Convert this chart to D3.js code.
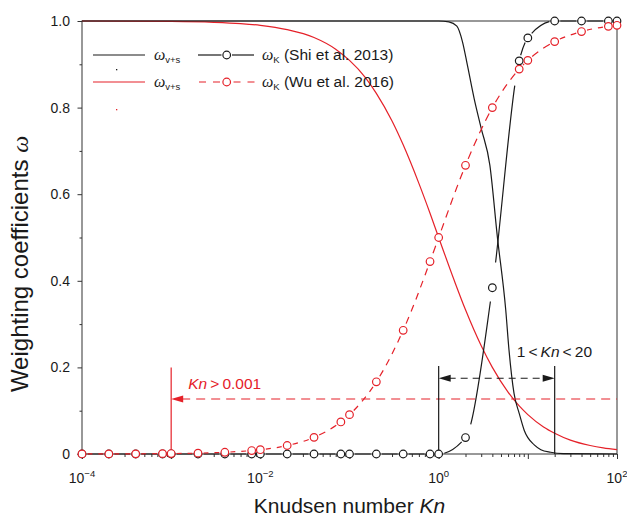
<!DOCTYPE html>
<html>
<head>
<meta charset="utf-8">
<script src="https://cdn.jsdelivr.net/npm/d3@7"></script>
<style>
  body { margin: 0; background: #fff; }
  svg { display: block; }
  text { font-family: "Liberation Sans", Arial, Helvetica, sans-serif; fill: #1a1a1a; }
</style>
</head>
<body>
<svg id="chart" width="627" height="518"></svg>
<script>
// Knudsen numbers at which the weighting coefficient omega_K is evaluated
const knPoints = [0.0001, 0.0002, 0.0004, 0.0008, 0.001, 0.002, 0.004, 0.008, 0.01, 0.02, 0.04, 0.08,
                  0.1, 0.2, 0.4, 0.8, 1, 2, 4, 8, 10, 20, 40, 80, 100];
// omega_K, Shi et al. 2013
const omegaKShi = [0, 0, 0, 0, 0, 0, 0, 0, 0, 0, 0, 0,
                   0, 0, 0, 0, 0, 0.038, 0.384, 0.908, 0.961, 1.0, 1.0, 1.0, 1.0];
// omega_K, Wu et al. 2016
const omegaKWu = [0.0001, 0.0002, 0.0004, 0.0008, 0.001, 0.002, 0.004, 0.008, 0.0099, 0.0196, 0.0385, 0.074,
                  0.0909, 0.1667, 0.2857, 0.4444, 0.5, 0.6667, 0.8, 0.8889, 0.9091, 0.9524, 0.9756, 0.9877, 0.9901];

// omega_v+s, Shi et al. 2013 (black solid curve)
const knShiVS = [0.0001, 1, 1.3, 1.6, 1.85, 2.1, 2.5, 3.0, 3.75, 4.55, 5.65, 6.15, 7.0, 8.0, 9.1, 11.8, 14, 18, 25, 100];
const omegaVSShi = [1, 1, 0.998, 0.988, 0.952, 0.898, 0.821, 0.752, 0.667, 0.502, 0.333, 0.24, 0.14, 0.094, 0.055, 0.021, 0.01, 0.004, 0.001, 0];

// omega_v+s, Wu et al. 2016 (red solid curve)
const knWuVS = [0.0001, 0.001, 0.003, 0.006, 0.01, 0.02, 0.04, 0.07, 0.1, 0.15, 0.2, 0.3, 0.4, 0.6, 0.8, 1,
                1.5, 2, 3, 4, 6, 8, 10, 15, 20, 30, 50, 70, 100];
const omegaVSWu = [1.0, 0.999, 0.997, 0.994, 0.990, 0.980, 0.962, 0.935, 0.909, 0.870, 0.833, 0.769, 0.714, 0.625, 0.556, 0.5,
                   0.4, 0.333, 0.25, 0.2, 0.143, 0.111, 0.091, 0.0625, 0.048, 0.032, 0.0196, 0.014, 0.0099];

// Axis ticks
const xMajorExponents = [-4, -3, -2, -1, 0, 1, 2];
const xLabelExponents = [-4, -2, 0, 2];
const yTicks = [0, 0.2, 0.4, 0.6, 0.8, 1.0];
const yTickLabels = ["0", "0.2", "0.4", "0.6", "0.8", "1.0"];
const yMinorTicks = [0.1, 0.3, 0.5, 0.7, 0.9];

// Flow-regime annotations
const knThreshold = 0.001;
const thresholdLevel = 0.127;
const thresholdTop = 0.2;
const transitionRange = [1, 20];
const transitionLevel = 0.175;
const transitionTop = 0.203;

const RED = "#e52129";
const BLACK = "#1a1a1a";
const R = 3.8;

const svg = d3.select("#chart");
const x = d3.scaleLog().domain([1e-4, 1e2]).range([82, 617]);
const y = d3.scaleLinear().domain([0, 1]).range([454, 21]);

// ---------- axes ----------
const minorX = [];
for (let e = -4; e < 2; e++) for (let m = 2; m <= 9; m++) minorX.push(m * Math.pow(10, e));

const axisG = svg.append("g");
axisG.append("g").attr("transform", `translate(0,${y(0)})`)
  .call(d3.axisBottom(x).tickValues(minorX).tickSize(3).tickFormat(""))
  .call(g => g.select(".domain").remove());
axisG.append("g").attr("transform", `translate(0,${y(0)})`)
  .call(d3.axisBottom(x).tickValues(xMajorExponents.map(e => Math.pow(10, e))).tickSize(5).tickFormat(""))
  .call(g => g.select(".domain").remove());

axisG.append("g").attr("transform", `translate(${x(1e-4)},0)`)
  .call(d3.axisLeft(y).tickValues(yMinorTicks).tickSize(2.5).tickFormat(""))
  .call(g => g.select(".domain").remove());
axisG.append("g").attr("transform", `translate(${x(1e-4)},0)`)
  .call(d3.axisLeft(y).tickValues(yTicks).tickSize(4.5).tickPadding(7.5)
        .tickFormat((d, i) => yTickLabels[i]))
  .call(g => g.select(".domain").remove())
  .call(g => g.selectAll("text").style("font-size", "14px").attr("fill", BLACK));
axisG.selectAll(".tick line").attr("stroke", "#333").attr("stroke-width", 1);

// frame
svg.append("rect").attr("x", x(1e-4)).attr("y", y(1)).attr("width", x(1e2) - x(1e-4)).attr("height", y(0) - y(1))
  .attr("fill", "none").attr("stroke", "#333").attr("stroke-width", 1);

// x tick labels with superscript exponents
const xl = svg.append("g");
xLabelExponents.forEach(e => {
  const t = xl.append("text").attr("x", x(Math.pow(10, e))).attr("y", 483)
    .attr("text-anchor", "middle").style("font-size", "14px");
  t.append("tspan").text("10");
  t.append("tspan").attr("dy", -6).style("font-size", "9.5px").text(e < 0 ? "\u2212" + (-e) : String(e));
});

// axis titles
const xt = svg.append("text").attr("x", (x(1e-4) + x(1e2)) / 2).attr("y", 513)
  .attr("text-anchor", "middle").style("font-size", "21px");
xt.append("tspan").text("Knudsen number ");
xt.append("tspan").style("font-style", "italic").text("Kn");

const yt = svg.append("text").attr("transform", "translate(28,264) rotate(-90)")
  .attr("text-anchor", "middle").style("font-size", "24px");
yt.append("tspan").text("Weighting coefficients ");
yt.append("tspan").style("font-family", "'Liberation Serif', 'Times New Roman', serif")
  .style("font-style", "italic").text("\u03c9");

// ---------- solid omega_v+s curves ----------
const plot = svg.append("g");
const smooth = d3.line().x(d => x(d[0])).y(d => y(d[1])).curve(d3.curveMonotoneX);

plot.append("path").attr("d", smooth(d3.zip(knWuVS, omegaVSWu)))
  .attr("fill", "none").attr("stroke", RED).attr("stroke-width", 1.2);
plot.append("path").attr("d", smooth(d3.zip(knShiVS, omegaVSShi)))
  .attr("fill", "none").attr("stroke", BLACK).attr("stroke-width", 1.2);

// ---------- annotations ----------
const ann = svg.append("g");
function arrowHead(g, tipX, tipY, dir, color) {
  const len = 12, hw = 3.6;
  g.append("path")
    .attr("d", `M${tipX},${tipY}L${tipX - dir * len},${tipY - hw}L${tipX - dir * len},${tipY + hw}Z`)
    .attr("fill", color);
}
// Kn > 0.001
ann.append("line").attr("x1", x(knThreshold)).attr("x2", x(knThreshold))
  .attr("y1", y(0)).attr("y2", y(thresholdTop)).attr("stroke", RED).attr("stroke-width", 1.2);
ann.append("line").attr("x1", x(knThreshold) + 10).attr("x2", x(1e2))
  .attr("y1", y(thresholdLevel)).attr("y2", y(thresholdLevel))
  .attr("stroke", RED).attr("stroke-width", 1.2).attr("stroke-dasharray", "9,6");
arrowHead(ann, x(knThreshold), y(thresholdLevel), -1, RED);
const kt = ann.append("text").attr("x", x(knThreshold) + 17).attr("y", y(thresholdLevel) - 10)
  .style("font-size", "15.5px").attr("fill", RED);
kt.append("tspan").style("font-style", "italic").attr("fill", RED).text("Kn");
kt.append("tspan").attr("fill", RED).text("\u2009>\u20090.001");

// 1 < Kn < 20
transitionRange.forEach(k => {
  ann.append("line").attr("x1", x(k)).attr("x2", x(k))
    .attr("y1", y(0)).attr("y2", y(transitionTop)).attr("stroke", BLACK).attr("stroke-width", 1.2);
});
ann.append("line").attr("x1", x(transitionRange[0]) + 10).attr("x2", x(transitionRange[1]) - 10)
  .attr("y1", y(transitionLevel)).attr("y2", y(transitionLevel))
  .attr("stroke", BLACK).attr("stroke-width", 1.2).attr("stroke-dasharray", "7,5");
arrowHead(ann, x(transitionRange[0]), y(transitionLevel), -1, BLACK);
arrowHead(ann, x(transitionRange[1]), y(transitionLevel), 1, BLACK);
const rt = ann.append("text").attr("x", x(transitionRange[0]) + 78).attr("y", y(transitionTop) - 9)
  .style("font-size", "15.5px");
rt.append("tspan").text("1\u2009<\u2009");
rt.append("tspan").style("font-style", "italic").text("Kn");
rt.append("tspan").text("\u2009<\u200920");

// ---------- omega_K lines with symbols ----------
// Smooth connecting line that stops short of every symbol.
function symbolLine(g, kn, om, color, dash) {
  const pts = kn.map((k, i) => ({ x: x(k), y: y(om[i]) }));
  const path = g.append("path")
    .attr("d", d3.line().x(d => d.x).y(d => d.y).curve(d3.curveMonotoneX)(pts))
    .attr("fill", "none").attr("stroke", color).attr("stroke-width", 1.2);
  const node = path.node();
  const total = node.getTotalLength();
  const L = pts.map((p, i) => {
    if (i === 0) return 0;
    if (i === pts.length - 1) return total;
    let lo = 0, hi = total;
    for (let k = 0; k < 40; k++) {
      const mid = (lo + hi) / 2;
      if (node.getPointAtLength(mid).x < p.x) lo = mid; else hi = mid;
    }
    return (lo + hi) / 2;
  });
  const visible = [];
  for (let i = 0; i < pts.length - 1; i++) {
    const chord = Math.hypot(pts[i + 1].x - pts[i].x, pts[i + 1].y - pts[i].y);
    const gap = R + 1.5 + chord * chord / 2600;
    const a = L[i] + gap, b = L[i + 1] - gap;
    if (b - a < 1) continue;
    if (!dash) { visible.push([a, b]); continue; }
    const [dl, gl] = dash;
    const span = b - a;
    const n = Math.max(1, Math.round((span + gl) / (dl + gl)));
    const d = Math.min(dl, (span - (n - 1) * gl) / n);
    if (d <= 0.5) { visible.push([a + span / 2 - 2, a + span / 2 + 2]); continue; }
    const used = n * d + (n - 1) * gl;
    let s = a + (span - used) / 2;
    for (let j = 0; j < n; j++) { visible.push([s, s + d]); s += d + gl; }
  }
  const arr = [0];
  let pos = 0;
  visible.forEach(([s, e]) => { arr.push(s - pos, e - s); pos = e; });
  arr.push(total - pos + 20);
  path.attr("stroke-dasharray", arr.join(","));
  g.selectAll(null).data(pts).join("circle")
    .attr("cx", d => d.x).attr("cy", d => d.y).attr("r", R)
    .attr("fill", "#fff").attr("stroke", color).attr("stroke-width", 1.2);
}
const symG = svg.append("g");
symbolLine(symG.append("g"), knPoints, omegaKShi, BLACK, null);
symbolLine(symG.append("g"), knPoints, omegaKWu, RED, [8, 6]);

// ---------- legend ----------
const leg = svg.append("g");
const rows = [
  { y: 55, color: BLACK, dash: null, label: "(Shi et al. 2013)" },
  { y: 82, color: RED, dash: "7,7", label: "(Wu et al. 2016)" }
];
function omegaLabel(g, lx, ly, sub, rest) {
  const t = g.append("text").attr("x", lx).attr("y", ly + 5).style("font-size", "16px");
  t.append("tspan").style("font-family", "'Liberation Serif', 'Times New Roman', serif")
    .style("font-style", "italic").text("\u03c9");
  t.append("tspan").attr("dy", 3).style("font-size", "9.5px").text(sub);
  if (rest) t.append("tspan").attr("dy", -3).style("font-size", "15.5px").text(" " + rest);
}
rows.forEach(r => {
  leg.append("line").attr("x1", 93).attr("x2", 145).attr("y1", r.y).attr("y2", r.y)
    .attr("stroke", r.color).attr("stroke-width", 1.2);
  omegaLabel(leg, 154, r.y, "v+s", null);
  if (r.dash) {
    leg.append("line").attr("x1", 199).attr("x2", 221).attr("y1", r.y).attr("y2", r.y)
      .attr("stroke", r.color).attr("stroke-width", 1.2).attr("stroke-dasharray", r.dash);
    leg.append("line").attr("x1", 233.5).attr("x2", 255).attr("y1", r.y).attr("y2", r.y)
      .attr("stroke", r.color).attr("stroke-width", 1.2).attr("stroke-dasharray", r.dash);
  } else {
    leg.append("line").attr("x1", 198).attr("x2", 221.5).attr("y1", r.y).attr("y2", r.y)
      .attr("stroke", r.color).attr("stroke-width", 1.2);
    leg.append("line").attr("x1", 232).attr("x2", 254).attr("y1", r.y).attr("y2", r.y)
      .attr("stroke", r.color).attr("stroke-width", 1.2);
  }
  leg.append("circle").attr("cx", 226.7).attr("cy", r.y).attr("r", R)
    .attr("fill", "#fff").attr("stroke", r.color).attr("stroke-width", 1.2);
  omegaLabel(leg, 262, r.y, "K", r.label);
  // small stray symbol below each legend row
  leg.append("rect").attr("x", 116).attr("y", r.y + 14 + (r.color === RED ? 13 : 0))
    .attr("width", 1.3).attr("height", 1.3).attr("fill", r.color);
});
</script>
</body>
</html>
